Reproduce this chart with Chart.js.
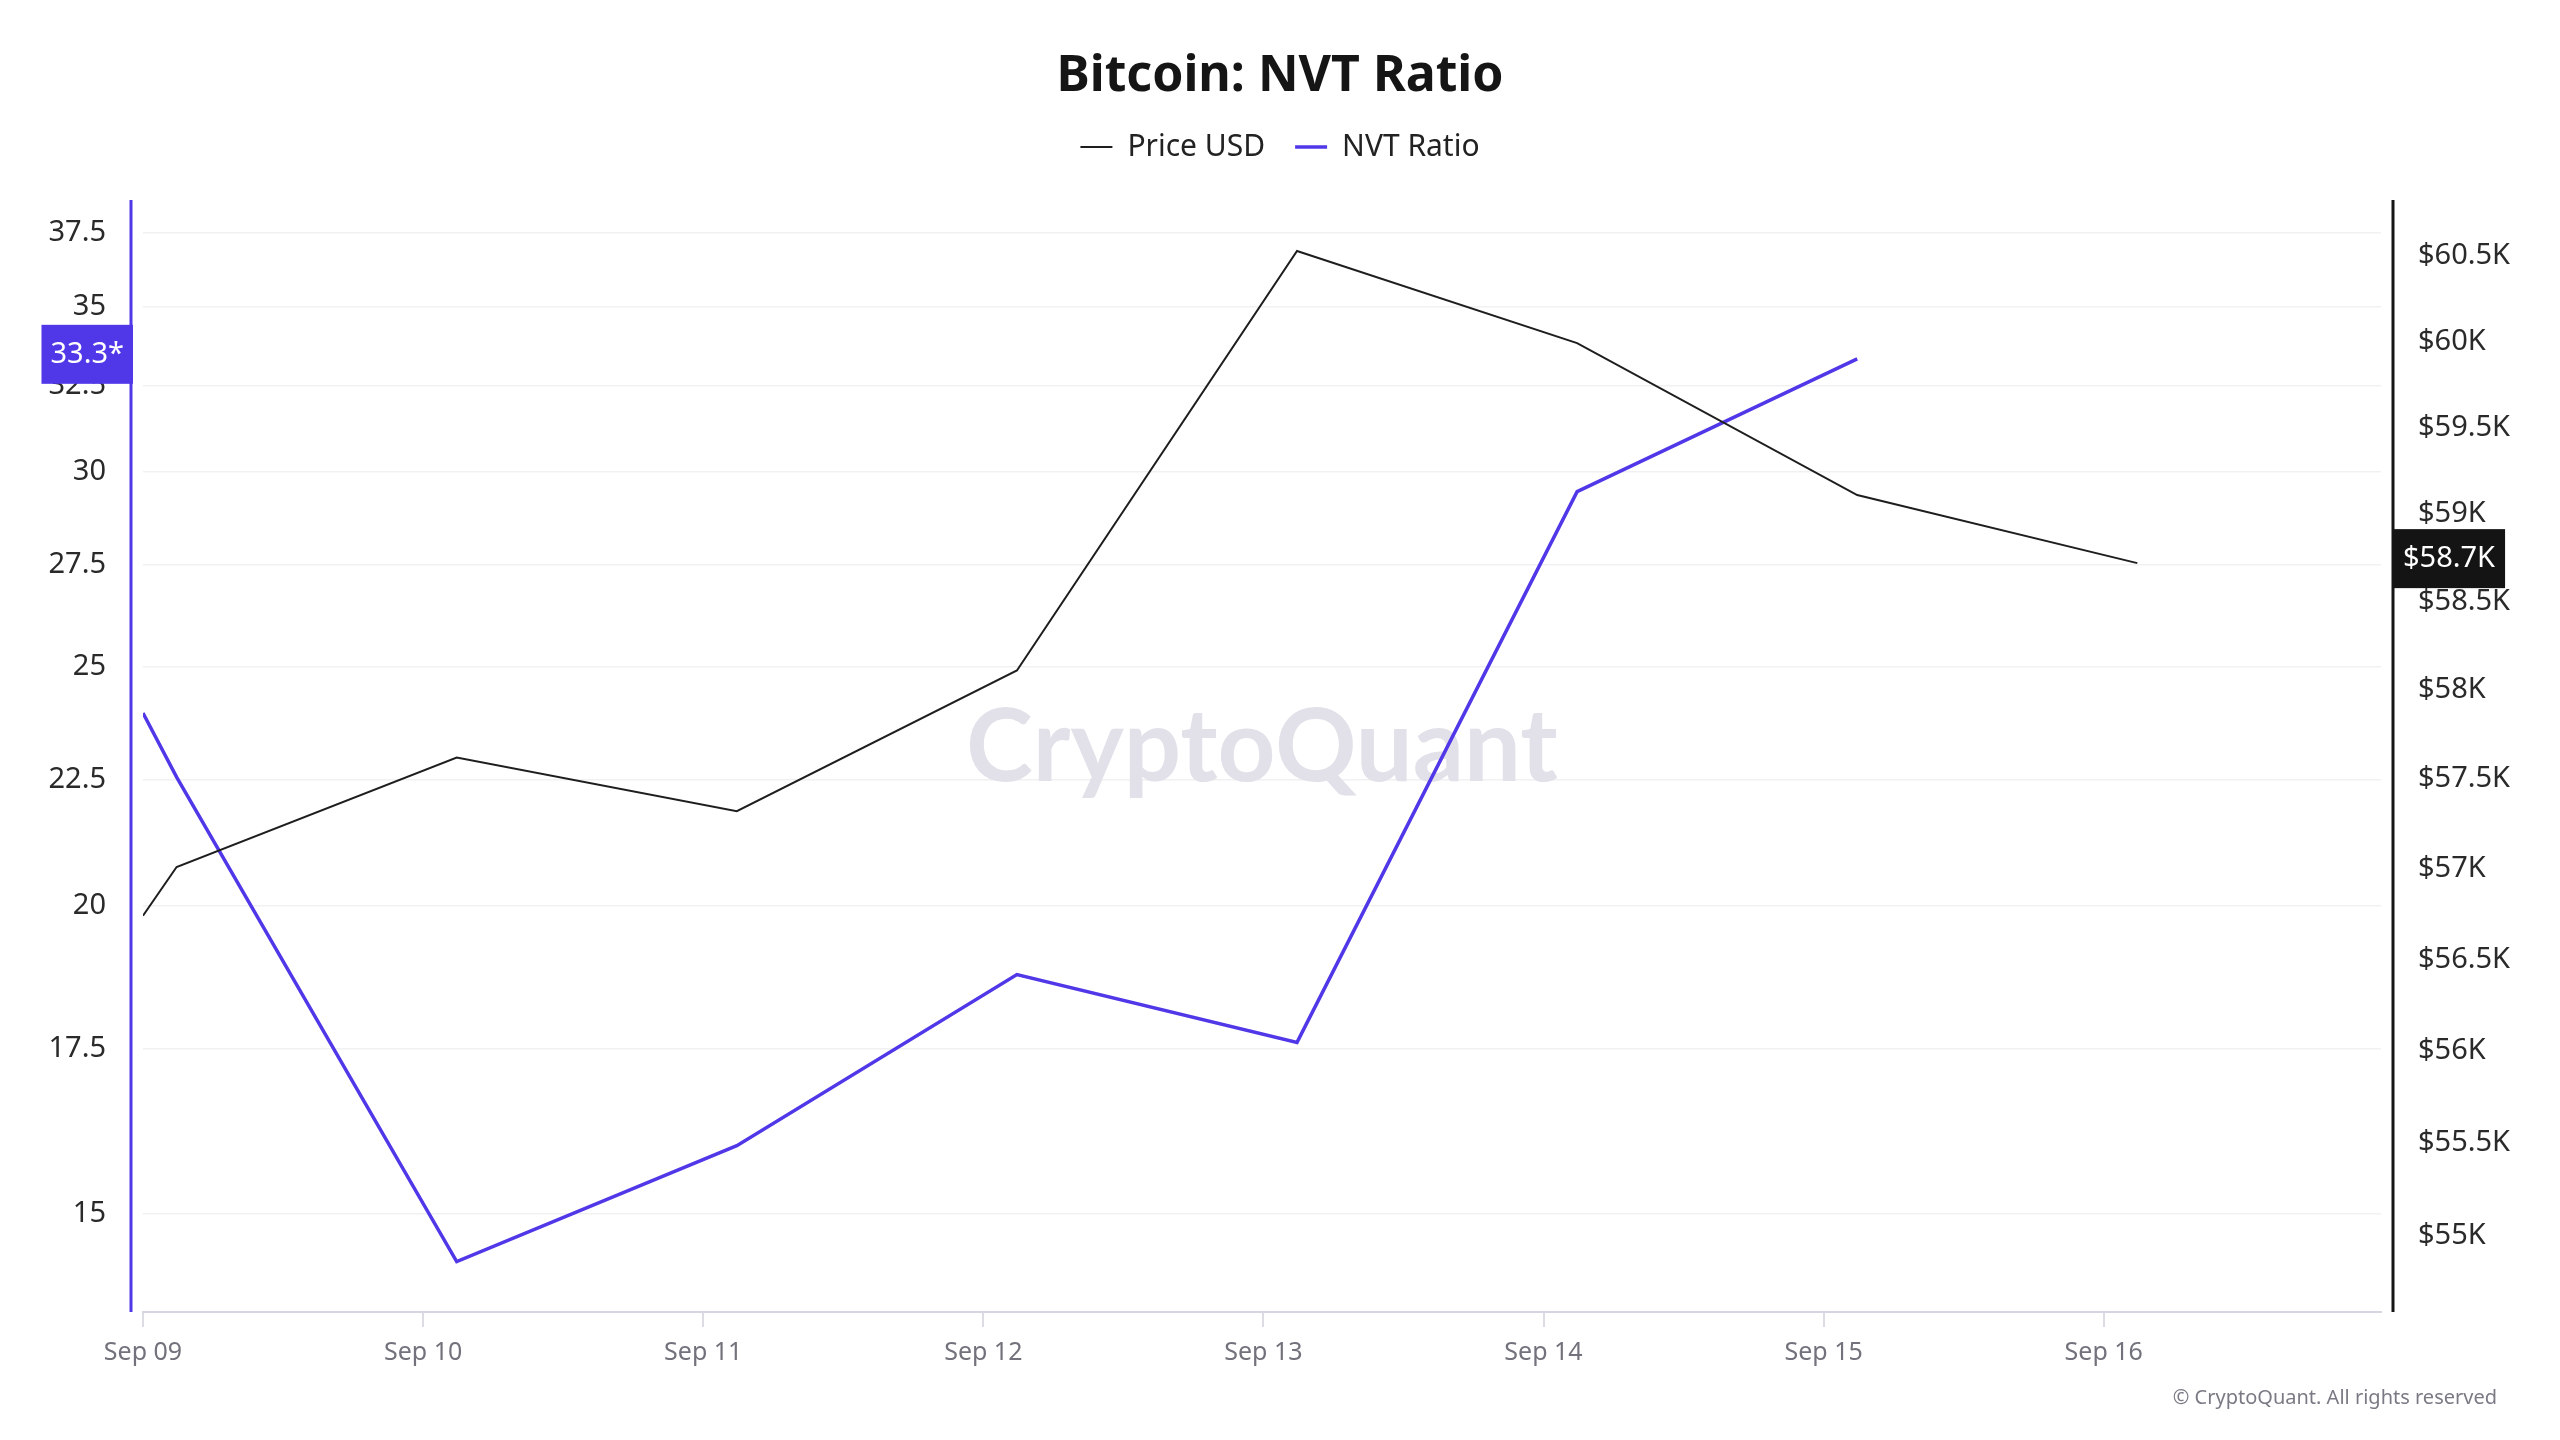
<!DOCTYPE html>
<html>
<head>
<meta charset="utf-8">
<title>Bitcoin: NVT Ratio</title>
<script src="https://cdn.jsdelivr.net/npm/chart.js@4.4.1/dist/chart.umd.min.js"></script>
<style>
    html, body { margin: 0; padding: 0; background: #ffffff; }
    #chart { display: block; }
</style>
</head>
<body>
<canvas id="chart" width="2560" height="1440"></canvas>
<script>
// x = days since Sep 09 00:00 (first point is where the line enters the axis)
const dayPos = [0, 0.12, 1.12, 2.12, 3.12, 4.12, 5.12, 6.12, 7.12];
const dayLabels = ['Sep 09', 'Sep 10', 'Sep 11', 'Sep 12', 'Sep 13', 'Sep 14', 'Sep 15', 'Sep 16'];
const priceUsd = [56740, 57010, 57620, 57320, 58110, 60530, 59990, 59110, 58720];
const nvtRatio = [23.95, 22.56, 14.35, 15.99, 18.76, 17.61, 29.45, 33.34, null];
const nvtTicks = [15, 17.5, 20, 22.5, 25, 27.5, 30, 32.5, 35, 37.5];
const priceTicks = [55000, 55500, 56000, 56500, 57000, 57500, 58000, 58500, 59000, 59500, 60000, 60500];

const PURPLE = '#5038e8';
const FONT = "'Noto Sans', sans-serif";

const toPoints = function(values) {
    return dayPos.map(function(x, i) { return {x: x, y: values[i]}; });
};

const lastValue = function(values) {
    for (let i = values.length - 1; i >= 0; i--) {
        if (values[i] !== null) return values[i];
    }
    return null;
};

const watermark = {
    id: 'watermark',
    beforeDatasetsDraw: function(chart) {
        const ctx = chart.ctx, area = chart.chartArea;
        ctx.save();
        ctx.font = "bold 100px Lato, sans-serif";
        const w = ctx.measureText('CryptoQuant').width;
        ctx.font = "bold " + Math.round(100 * 590 / w) + "px Lato, sans-serif";
        ctx.fillStyle = '#e2e1e9';
        ctx.textAlign = 'center';
        ctx.textBaseline = 'middle';
        ctx.fillText('CryptoQuant', (area.left + area.right) / 2, (area.top + area.bottom) / 2 - 8);
        ctx.restore();
    }
};

const axisExtras = {
    id: 'axisExtras',
    afterDraw: function(chart) {
        const ctx = chart.ctx, area = chart.chartArea;
        const leftX = area.left - 12, rightX = area.right + 12;
        ctx.save();

        //axis lines sit a little outside the plot
        ctx.lineWidth = 3;
        ctx.strokeStyle = PURPLE;
        ctx.beginPath();
        ctx.moveTo(leftX, area.top);
        ctx.lineTo(leftX, area.bottom);
        ctx.stroke();
        ctx.strokeStyle = '#151515';
        ctx.beginPath();
        ctx.moveTo(rightX, area.top);
        ctx.lineTo(rightX, area.bottom);
        ctx.stroke();

        //last value boxes
        ctx.font = '29px ' + FONT;
        ctx.textBaseline = 'middle';
        const nvtLast = lastValue(nvtRatio);
        const nvtText = nvtLast.toFixed(1) + '*';
        const nvtY = chart.scales.yNvt.getPixelForValue(nvtLast) - 4.5;
        const nvtW = ctx.measureText(nvtText).width + 18;
        ctx.fillStyle = PURPLE;
        ctx.fillRect(leftX + 2 - nvtW, nvtY - 29.5, nvtW, 59);
        ctx.fillStyle = '#ffffff';
        ctx.textAlign = 'center';
        ctx.fillText(nvtText, leftX + 2 - nvtW / 2, nvtY);

        const priceLast = lastValue(priceUsd);
        const priceText = '$' + (priceLast / 1000).toFixed(1) + 'K';
        const priceY = chart.scales.yPrice.getPixelForValue(priceLast) - 4.5;
        const priceW = ctx.measureText(priceText).width + 20;
        ctx.fillStyle = '#141414';
        ctx.fillRect(rightX, priceY - 29.5, priceW, 59);
        ctx.fillStyle = '#ffffff';
        ctx.fillText(priceText, rightX + priceW / 2, priceY);

        //copyright
        ctx.font = '20px ' + FONT;
        ctx.fillStyle = '#7a7a85';
        ctx.textAlign = 'right';
        ctx.fillText('\u00A9 CryptoQuant. All rights reserved', 2497, 1398);
        ctx.restore();
    }
};

new Chart(document.getElementById('chart'), {
    type: 'line',
    data: {
        datasets: [{
            label: 'Price USD',
            data: toPoints(priceUsd),
            yAxisID: 'yPrice',
            borderColor: '#1e1e1e',
            borderWidth: 2,
            pointRadius: 0,
            tension: 0
        }, {
            label: 'NVT Ratio',
            data: toPoints(nvtRatio),
            yAxisID: 'yNvt',
            borderColor: PURPLE,
            borderWidth: 3.5,
            pointRadius: 0,
            tension: 0
        }]
    },
    options: {
        responsive: false,
        devicePixelRatio: 1,
        animation: false,
        layout: { padding: 0 },
        plugins: {
            title: {
                display: true,
                text: 'Bitcoin: NVT Ratio',
                color: '#151515',
                font: { family: FONT, size: 50, weight: 'bold', lineHeight: 1 },
                padding: { top: 52, bottom: 0 }
            },
            legend: {
                display: true,
                labels: {
                    usePointStyle: true,
                    pointStyle: 'line',
                    pointStyleWidth: 32,
                    padding: 30,
                    color: '#222222',
                    font: { family: FONT, size: 30 }
                }
            },
            tooltip: { enabled: false }
        },
        scales: {
            x: {
                type: 'linear',
                position: 'bottom',
                min: 0,
                max: 7.99,
                afterBuildTicks: function(axis) {
                    axis.ticks = dayLabels.map(function(l, i) { return {value: i}; });
                },
                afterFit: function(axis) { axis.height = 128; },
                ticks: {
                    autoSkip: false,
                    maxRotation: 0,
                    padding: 11,
                    color: '#72727c',
                    font: { family: FONT, size: 25 },
                    callback: function(value) { return dayLabels[value]; }
                },
                grid: { drawOnChartArea: false, drawTicks: true, tickLength: 15, color: '#dcdce4', lineWidth: 2 },
                border: { display: true, color: '#d6d5e2', width: 2 }
            },
            topGap: {
                type: 'linear',
                position: 'top',
                afterFit: function(axis) { axis.height = 28; },
                ticks: { display: false },
                grid: { display: false },
                border: { display: false }
            },
            yNvt: {
                type: 'logarithmic',
                position: 'left',
                min: 13.69,
                max: 38.67,
                bounds: 'data',
                afterBuildTicks: function(axis) {
                    axis.ticks = nvtTicks.map(function(v) { return {value: v}; });
                },
                afterFit: function(axis) { axis.width = 143; },
                ticks: {
                    autoSkip: false,
                    padding: 37,
                    color: '#2a2a2a',
                    font: { family: FONT, size: 29 },
                    callback: function(value) { return String(value); }
                },
                grid: { color: '#f1f1f3', lineWidth: 1.5, drawTicks: false },
                border: { display: false }
            },
            yPrice: {
                type: 'logarithmic',
                position: 'right',
                min: 54595,
                max: 60831,
                bounds: 'data',
                afterBuildTicks: function(axis) {
                    axis.ticks = priceTicks.map(function(v) { return {value: v}; });
                },
                afterFit: function(axis) { axis.width = 179; },
                ticks: {
                    autoSkip: false,
                    padding: 37,
                    color: '#2a2a2a',
                    font: { family: FONT, size: 29 },
                    callback: function(value) { return '$' + (value / 1000) + 'K'; }
                },
                grid: { display: false, drawTicks: false },
                border: { display: false }
            }
        }
    },
    plugins: [watermark, axisExtras]
});
</script>
</body>
</html>
